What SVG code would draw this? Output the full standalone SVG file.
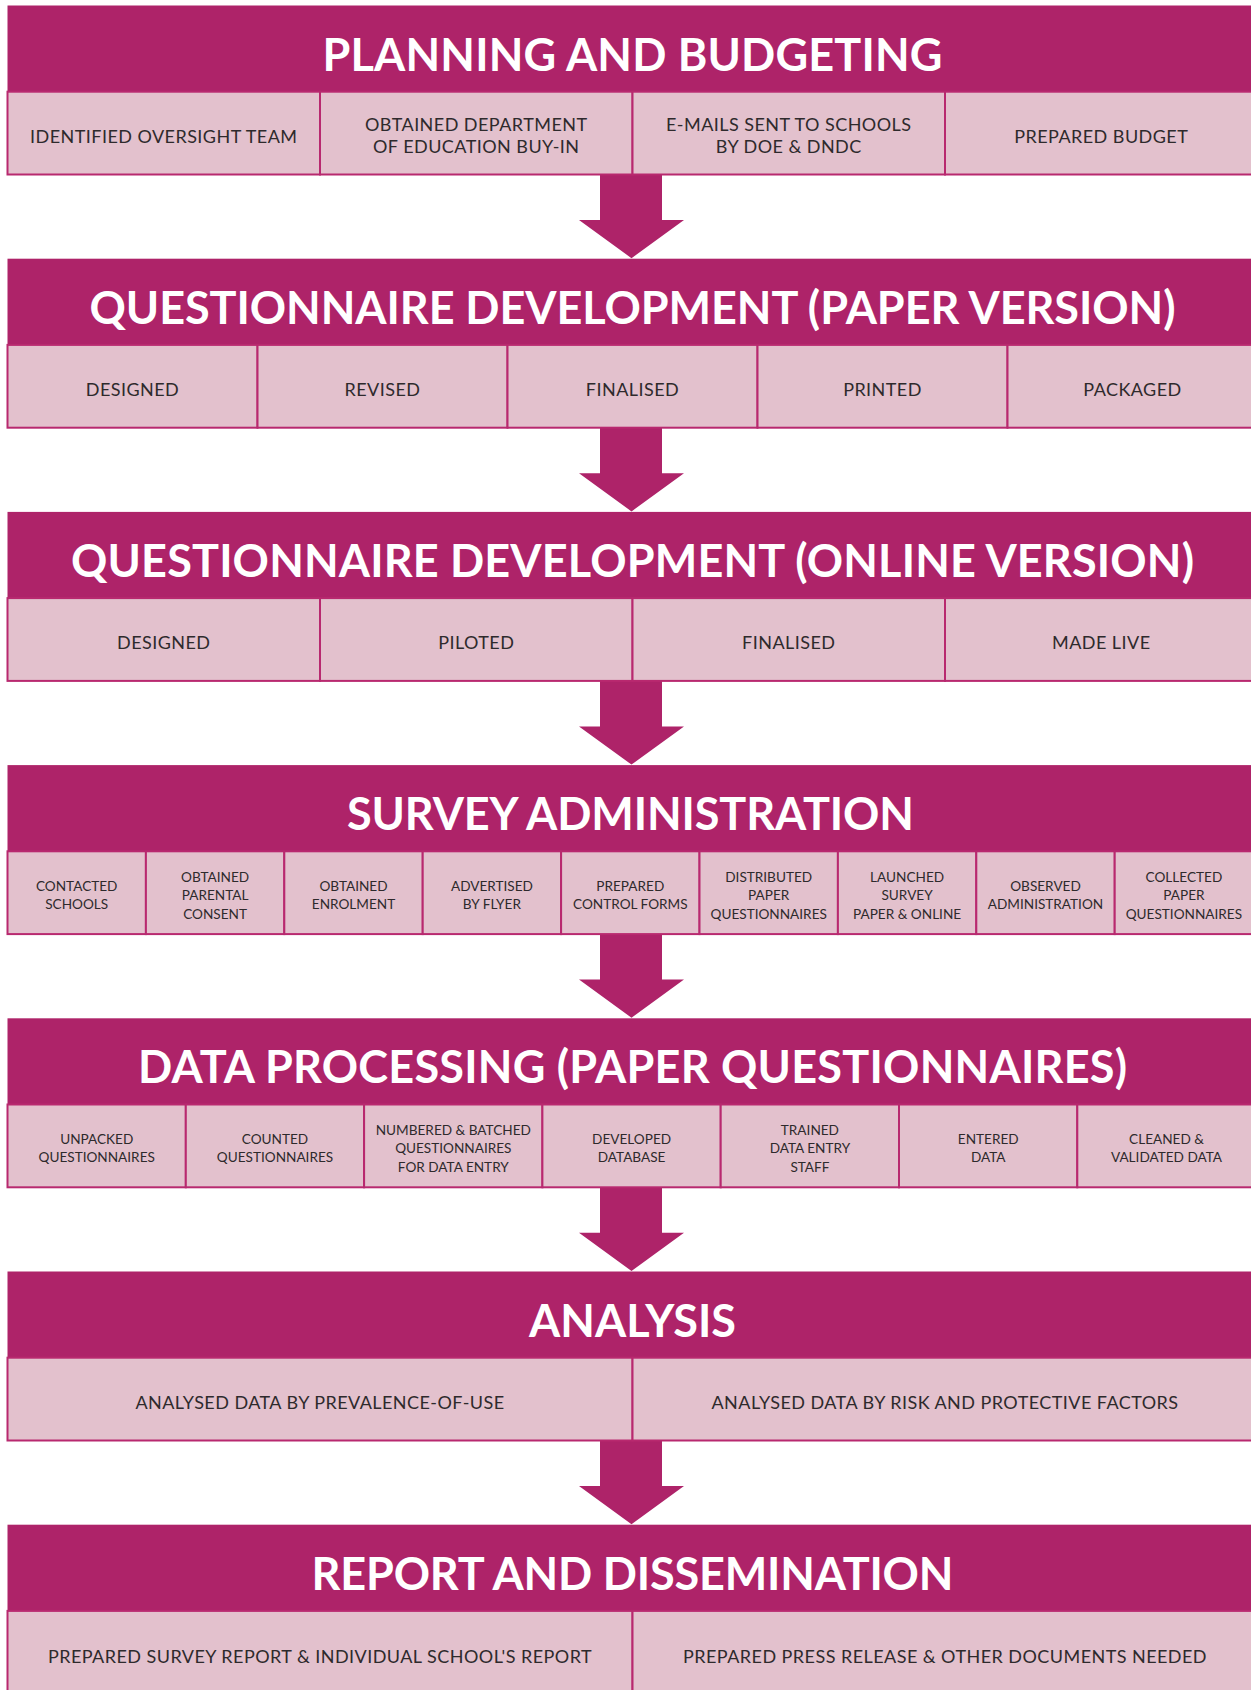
<svg xmlns="http://www.w3.org/2000/svg" xmlns:xlink="http://www.w3.org/1999/xlink" width="1251" height="1690" viewBox="0 0 1251 1690">
<defs>
<style>
.hdr{fill:#AE2369}
.cell{fill:#E3C1CD;stroke:#B8296F;stroke-width:2}
.title{font-family:Lato,"Open Sans","Liberation Sans",sans-serif;font-weight:700;font-size:45px;fill:#ffffff;text-anchor:middle}
.lbl{font-family:Lato,"Open Sans","Liberation Sans",sans-serif;font-size:18px;fill:#2e2a2c;text-anchor:middle;letter-spacing:0.45px}
.sm{font-size:13.6px;letter-spacing:0px}
.arrow{fill:#AE2369}
</style>
<path id="arr" d="M600,0 H662 V46 H684 L631.5,84.2 L579,46 H600 Z"/>
</defs>
<rect width="1251" height="1690" fill="#ffffff"/>

<g id="connectors" class="arrow">
<use xlink:href="#arr" transform="translate(0,174)"/>
<use xlink:href="#arr" transform="translate(0,427.2)"/>
<use xlink:href="#arr" transform="translate(0,680.4)"/>
<use xlink:href="#arr" transform="translate(0,933.6)"/>
<use xlink:href="#arr" transform="translate(0,1186.8)"/>
<use xlink:href="#arr" transform="translate(0,1440)"/>
</g>

<g id="planning" transform="translate(0,5.5)">
<rect class="hdr" x="7.5" y="0" width="1250" height="86.2"/>
<text class="title" x="632.5" y="65" textLength="620" lengthAdjust="spacing">PLANNING AND BUDGETING</text>
<rect class="cell" x="7.5" y="86.2" width="312.5" height="82.8"/>
<rect class="cell" x="320" y="86.2" width="312.5" height="82.8"/>
<rect class="cell" x="632.5" y="86.2" width="312.5" height="82.8"/>
<rect class="cell" x="945" y="86.2" width="312.5" height="82.8"/>
<text class="lbl" x="163.75" y="137.2">IDENTIFIED OVERSIGHT TEAM</text>
<text class="lbl" x="476.25" y="125.5">OBTAINED DEPARTMENT</text>
<text class="lbl" x="476.25" y="147.5">OF EDUCATION BUY-IN</text>
<text class="lbl" x="788.75" y="125.5">E-MAILS SENT TO SCHOOLS</text>
<text class="lbl" x="788.75" y="147.5">BY DOE &amp; DNDC</text>
<text class="lbl" x="1101.25" y="137.2">PREPARED BUDGET</text>
</g>

<g id="paper-version" transform="translate(0,258.7)">
<rect class="hdr" x="7.5" y="0" width="1250" height="86.2"/>
<text class="title" x="632.5" y="65" textLength="1086" lengthAdjust="spacing">QUESTIONNAIRE DEVELOPMENT (PAPER VERSION)</text>
<rect class="cell" x="7.5" y="86.2" width="250" height="82.8"/>
<rect class="cell" x="257.5" y="86.2" width="250" height="82.8"/>
<rect class="cell" x="507.5" y="86.2" width="250" height="82.8"/>
<rect class="cell" x="757.5" y="86.2" width="250" height="82.8"/>
<rect class="cell" x="1007.5" y="86.2" width="250" height="82.8"/>
<text class="lbl" x="132.5" y="137.2">DESIGNED</text>
<text class="lbl" x="382.5" y="137.2">REVISED</text>
<text class="lbl" x="632.5" y="137.2">FINALISED</text>
<text class="lbl" x="882.5" y="137.2">PRINTED</text>
<text class="lbl" x="1132.5" y="137.2">PACKAGED</text>
</g>

<g id="online-version" transform="translate(0,511.9)">
<rect class="hdr" x="7.5" y="0" width="1250" height="86.2"/>
<text class="title" x="632.5" y="65" textLength="1123" lengthAdjust="spacing">QUESTIONNAIRE DEVELOPMENT (ONLINE VERSION)</text>
<rect class="cell" x="7.5" y="86.2" width="312.5" height="82.8"/>
<rect class="cell" x="320" y="86.2" width="312.5" height="82.8"/>
<rect class="cell" x="632.5" y="86.2" width="312.5" height="82.8"/>
<rect class="cell" x="945" y="86.2" width="312.5" height="82.8"/>
<text class="lbl" x="163.75" y="137.2">DESIGNED</text>
<text class="lbl" x="476.25" y="137.2">PILOTED</text>
<text class="lbl" x="788.75" y="137.2">FINALISED</text>
<text class="lbl" x="1101.25" y="137.2">MADE LIVE</text>
</g>

<g id="survey-administration" transform="translate(0,765.1)">
<rect class="hdr" x="7.5" y="0" width="1250" height="86.2"/>
<text class="title" x="630.5" y="65" textLength="567" lengthAdjust="spacing">SURVEY ADMINISTRATION</text>
<rect class="cell" x="7.5" y="86.2" width="138.4" height="82.8"/>
<rect class="cell" x="145.9" y="86.2" width="138.4" height="82.8"/>
<rect class="cell" x="284.3" y="86.2" width="138.4" height="82.8"/>
<rect class="cell" x="422.7" y="86.2" width="138.4" height="82.8"/>
<rect class="cell" x="561.1" y="86.2" width="138.4" height="82.8"/>
<rect class="cell" x="699.5" y="86.2" width="138.4" height="82.8"/>
<rect class="cell" x="837.9" y="86.2" width="138.4" height="82.8"/>
<rect class="cell" x="976.3" y="86.2" width="138.4" height="82.8"/>
<rect class="cell" x="1114.7" y="86.2" width="142.8" height="82.8"/>
<text class="lbl sm" x="76.7" y="125.7">CONTACTED</text>
<text class="lbl sm" x="76.7" y="144.2">SCHOOLS</text>
<text class="lbl sm" x="215.1" y="116.7">OBTAINED</text>
<text class="lbl sm" x="215.1" y="135.2">PARENTAL</text>
<text class="lbl sm" x="215.1" y="153.7">CONSENT</text>
<text class="lbl sm" x="353.5" y="125.7">OBTAINED</text>
<text class="lbl sm" x="353.5" y="144.2">ENROLMENT</text>
<text class="lbl sm" x="491.9" y="125.7">ADVERTISED</text>
<text class="lbl sm" x="491.9" y="144.2">BY FLYER</text>
<text class="lbl sm" x="630.3" y="125.7">PREPARED</text>
<text class="lbl sm" x="630.3" y="144.2">CONTROL FORMS</text>
<text class="lbl sm" x="768.7" y="116.7">DISTRIBUTED</text>
<text class="lbl sm" x="768.7" y="135.2">PAPER</text>
<text class="lbl sm" x="768.7" y="153.7">QUESTIONNAIRES</text>
<text class="lbl sm" x="907.1" y="116.7">LAUNCHED</text>
<text class="lbl sm" x="907.1" y="135.2">SURVEY</text>
<text class="lbl sm" x="907.1" y="153.7">PAPER &amp; ONLINE</text>
<text class="lbl sm" x="1045.5" y="125.7">OBSERVED</text>
<text class="lbl sm" x="1045.5" y="144.2">ADMINISTRATION</text>
<text class="lbl sm" x="1183.9" y="116.7">COLLECTED</text>
<text class="lbl sm" x="1183.9" y="135.2">PAPER</text>
<text class="lbl sm" x="1183.9" y="153.7">QUESTIONNAIRES</text>
</g>

<g id="data-processing" transform="translate(0,1018.3)">
<rect class="hdr" x="7.5" y="0" width="1250" height="86.2"/>
<text class="title" x="632.5" y="65" textLength="989" lengthAdjust="spacing">DATA PROCESSING (PAPER QUESTIONNAIRES)</text>
<rect class="cell" x="7.5" y="86.2" width="178.3" height="82.8"/>
<rect class="cell" x="185.8" y="86.2" width="178.3" height="82.8"/>
<rect class="cell" x="364.1" y="86.2" width="178.3" height="82.8"/>
<rect class="cell" x="542.4" y="86.2" width="178.3" height="82.8"/>
<rect class="cell" x="720.7" y="86.2" width="178.3" height="82.8"/>
<rect class="cell" x="899" y="86.2" width="178.3" height="82.8"/>
<rect class="cell" x="1077.3" y="86.2" width="180.2" height="82.8"/>
<text class="lbl sm" x="96.7" y="125.7">UNPACKED</text>
<text class="lbl sm" x="96.7" y="144.2">QUESTIONNAIRES</text>
<text class="lbl sm" x="275" y="125.7">COUNTED</text>
<text class="lbl sm" x="275" y="144.2">QUESTIONNAIRES</text>
<text class="lbl sm" x="453.3" y="116.7">NUMBERED &amp; BATCHED</text>
<text class="lbl sm" x="453.3" y="135.2">QUESTIONNAIRES</text>
<text class="lbl sm" x="453.3" y="153.7">FOR DATA ENTRY</text>
<text class="lbl sm" x="631.6" y="125.7">DEVELOPED</text>
<text class="lbl sm" x="631.6" y="144.2">DATABASE</text>
<text class="lbl sm" x="809.9" y="116.7">TRAINED</text>
<text class="lbl sm" x="809.9" y="135.2">DATA ENTRY</text>
<text class="lbl sm" x="809.9" y="153.7">STAFF</text>
<text class="lbl sm" x="988.2" y="125.7">ENTERED</text>
<text class="lbl sm" x="988.2" y="144.2">DATA</text>
<text class="lbl sm" x="1166.5" y="125.7">CLEANED &amp;</text>
<text class="lbl sm" x="1166.5" y="144.2">VALIDATED DATA</text>
</g>

<g id="analysis" transform="translate(0,1271.5)">
<rect class="hdr" x="7.5" y="0" width="1250" height="86.2"/>
<text class="title" x="632.5" y="65" textLength="207" lengthAdjust="spacing">ANALYSIS</text>
<rect class="cell" x="7.5" y="86.2" width="625" height="82.8"/>
<rect class="cell" x="632.5" y="86.2" width="625" height="82.8"/>
<text class="lbl" x="320" y="137.2">ANALYSED DATA BY PREVALENCE-OF-USE</text>
<text class="lbl" x="945" y="137.2">ANALYSED DATA BY RISK AND PROTECTIVE FACTORS</text>
</g>

<g id="report" transform="translate(0,1524.7)">
<rect class="hdr" x="7.5" y="0" width="1250" height="86.2"/>
<text class="title" x="632.5" y="65" textLength="642" lengthAdjust="spacing">REPORT AND DISSEMINATION</text>
<rect class="cell" x="7.5" y="86.2" width="625" height="90"/>
<rect class="cell" x="632.5" y="86.2" width="625" height="90"/>
<text class="lbl" x="320" y="138.3">PREPARED SURVEY REPORT &amp; INDIVIDUAL SCHOOL'S REPORT</text>
<text class="lbl" x="945" y="138.3">PREPARED PRESS RELEASE &amp; OTHER DOCUMENTS NEEDED</text>
</g>
</svg>
